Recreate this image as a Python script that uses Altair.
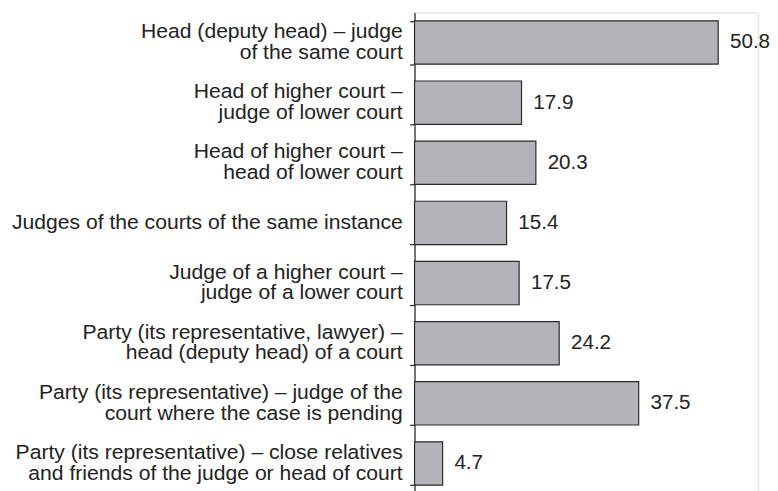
import altair as alt
import pandas as pd

categories = [
    "Head (deputy head) – judge|of the same court",
    "Head of higher court –|judge of lower court",
    "Head of higher court –|head of lower court",
    "Judges of the courts of the same instance",
    "Judge of a higher court –|judge of a lower court",
    "Party (its representative, lawyer) –|head (deputy head) of a court",
    "Party (its representative) – judge of the|court where the case is pending",
    "Party (its representative) – close relatives|and friends of the judge or head of court",
]
values = [50.8, 17.9, 20.3, 15.4, 17.5, 24.2, 37.5, 4.7]

df = pd.DataFrame({"cat": categories, "val": values})
df["lbl"] = df["val"].map(lambda v: f"{v:.1f}")
parts = df["cat"].str.split("|")
df["line1"] = parts.map(lambda p: p[0])
df["line2"] = parts.map(lambda p: p[1] if len(p) > 1 else "")
df["nlines"] = parts.map(len)

y_enc = alt.Y(
    "cat:N",
    sort=None,
    title=None,
    scale=alt.Scale(paddingInner=0.28, paddingOuter=0.14),
    axis=alt.Axis(
        labels=False,
        tickBand="extent",
        tickSize=5,
        tickColor="#222222",
        domainColor="#222222",
        tickWidth=1.2,
        domainWidth=1.2,
    ),
)
y_plain = alt.Y("cat:N", sort=None)

x_enc = alt.X("val:Q", scale=alt.Scale(domain=[0, 57.5]), axis=None)

base = alt.Chart(df)

bars = base.mark_bar(
    color="#b4b4b8", stroke="#2a2a2a", strokeWidth=1.2
).encode(x=x_enc, y=y_enc)

values_text = base.mark_text(
    align="left", baseline="middle", dx=12, fontSize=21,
    font="Liberation Sans", color="#222222"
).encode(x=x_enc, y=y_plain, text="lbl:N")

lab_style = dict(align="right", baseline="middle", dx=-12, fontSize=21.5,
                 font="Liberation Sans", color="#222222")

single = base.transform_filter("datum.nlines == 1").mark_text(**lab_style).encode(
    x=alt.value(0), y=y_plain, text="line1:N")
top_line = base.transform_filter("datum.nlines == 2").mark_text(dy=-10.5, **lab_style).encode(
    x=alt.value(0), y=y_plain, text="line1:N")
bottom_line = base.transform_filter("datum.nlines == 2").mark_text(dy=10.5, **lab_style).encode(
    x=alt.value(0), y=y_plain, text="line2:N")

chart = (
    alt.layer(bars, values_text, single, top_line, bottom_line)
    .properties(
        width=350,
        height=490,
        autosize=alt.AutoSizeParams(type="none"),
        padding={"left": 414, "top": 0, "right": 12, "bottom": 0},
    )
    .configure_view(stroke=None)
    .configure(background="white")
)

chart.save("out.html", embed_options={"renderer": "svg", "actions": False})
